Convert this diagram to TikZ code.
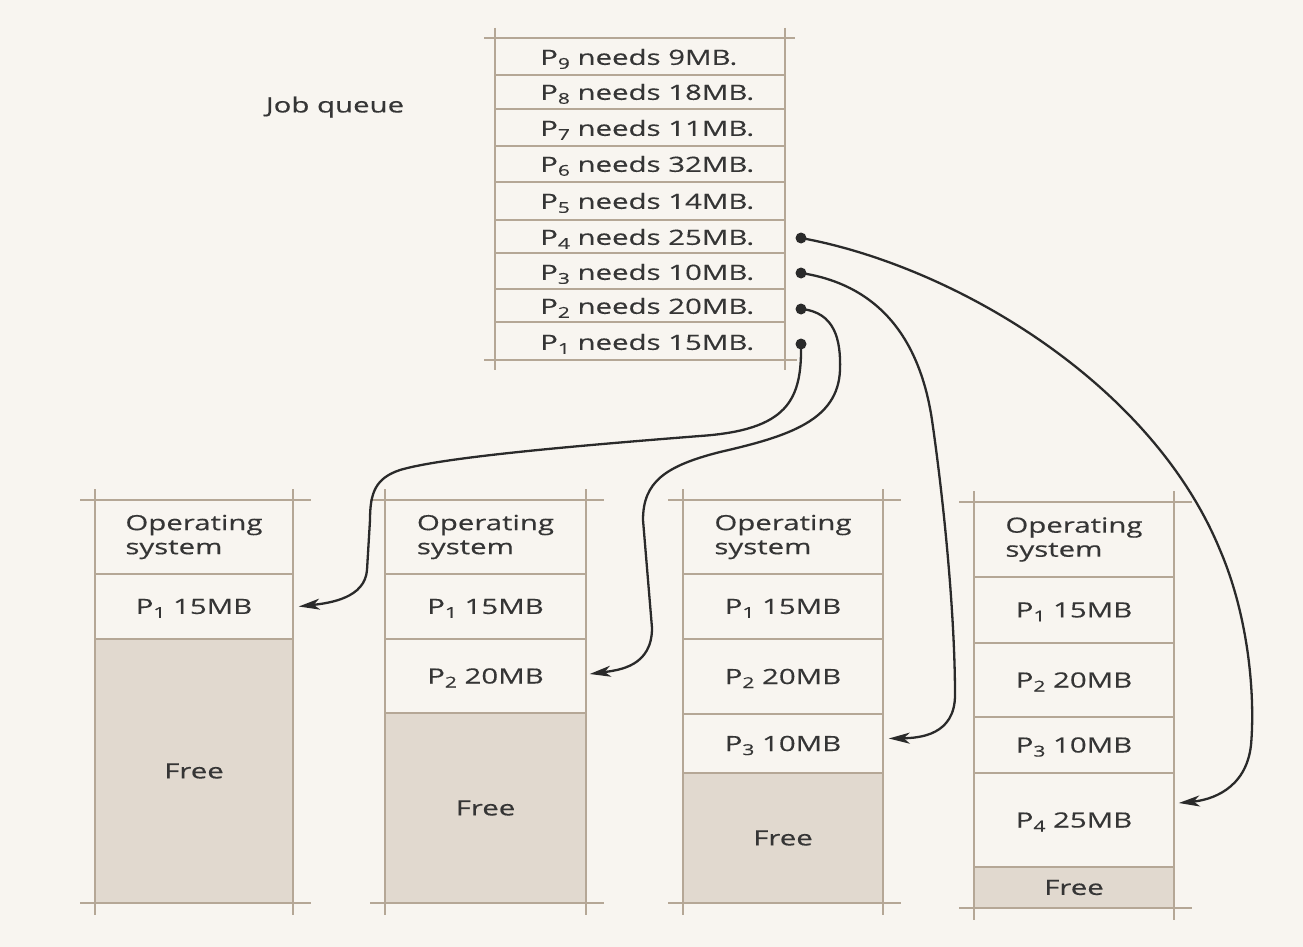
\documentclass[tikz,border=0pt]{standalone}
\usepackage{fontspec}
\setmainfont{Open Sans}[FakeStretch=1.4,FakeBold=0.35]
\usetikzlibrary{arrows.meta}
\definecolor{paper}{HTML}{F8F5F0}
\definecolor{rule}{HTML}{B5A796}
\definecolor{freefill}{HTML}{E1D9CF}
\definecolor{ink}{HTML}{353535}
\definecolor{wire}{HTML}{2A2A2A}
% subscript index of a process name
\newcommand\pid[1]{P\raisebox{-4pt}[0pt][0pt]{\fontsize{15}{15}\selectfont #1}}
% outer frame of a memory column: edges run past the corners
\newcommand\memframe[4]{%
  \draw[frame] (#1-15,#3) -- (#2+18,#3);
  \draw[frame] (#1-15,#4) -- (#2+18,#4);
  \draw[frame] (#1,#3-11) -- (#1,#4+12);
  \draw[frame] (#2,#3-11) -- (#2,#4+12);}
\begin{document}
\begin{tikzpicture}[x=1pt,y=-1pt,
  font=\fontsize{21}{24}\selectfont,
  frame/.style={draw=rule,line width=1.8pt},
  sep/.style={draw=rule,line width=1.5pt},
  qtext/.style={anchor=west,text=ink,inner sep=0pt},
  blk/.style={draw=rule,line width=1.5pt,inner sep=0pt,text=ink,align=left},
  freeblk/.style={blk,fill=freefill},
  dot/.style={circle,fill=wire,inner sep=0pt,minimum size=11pt},
  wirearrow/.style={draw=wire,line width=2.3pt,-{Stealth[length=21pt,width=11pt,inset=6pt]}}]

\fill[paper] (0,0) rectangle (1303,947);
\useasboundingbox (0,0) rectangle (1303,947);

% ---- job queue ----
\node[text=ink] (jq) at (335,107) {Job queue};

\foreach \y in {75,109,146,182,220,253,289,322} \draw[sep] (495,\y) -- (785,\y);
\draw[frame] (484,38) -- (795,38);
\draw[frame] (484,360) -- (797,360);
\draw[frame] (495,28) -- (495,370);
\draw[frame] (785,28) -- (785,370);

\node[qtext] (q9) at (540,57)  {\pid{9} needs 9MB.};
\node[qtext] (q8) at (540,92)  {\pid{8} needs 18MB.};
\node[qtext] (q7) at (540,128) {\pid{7} needs 11MB.};
\node[qtext] (q6) at (540,164) {\pid{6} needs 32MB.};
\node[qtext] (q5) at (540,201) {\pid{5} needs 14MB.};
\node[qtext] (q4) at (540,237) {\pid{4} needs 25MB.};
\node[qtext] (q3) at (540,272) {\pid{3} needs 10MB.};
\node[qtext] (q2) at (540,306) {\pid{2} needs 20MB.};
\node[qtext] (q1) at (540,342) {\pid{1} needs 15MB.};

\node[dot] (d4) at (801,238) {};
\node[dot] (d3) at (801,273) {};
\node[dot] (d2) at (801,309) {};
\node[dot] (d1) at (801,344) {};

% ---- memory column 1 ----
\node[blk,minimum width=198,minimum height=74] (c1os) at (194,537) {Operating\\system};
\node[blk,minimum width=198,minimum height=65] (c1p1) at (194,606.5) {\pid{1} 15MB};
\node[freeblk,minimum width=198,minimum height=264] (c1free) at (194,771) {Free};
\memframe{95}{293}{500}{903}

% ---- memory column 2 ----
\node[blk,minimum width=201,minimum height=74] (c2os) at (485.5,537) {Operating\\system};
\node[blk,minimum width=201,minimum height=65] (c2p1) at (485.5,606.5) {\pid{1} 15MB};
\node[blk,minimum width=201,minimum height=74] (c2p2) at (485.5,676) {\pid{2} 20MB};
\node[freeblk,minimum width=201,minimum height=190] (c2free) at (485.5,808) {Free};
\memframe{385}{586}{500}{903}

% ---- memory column 3 ----
\node[blk,minimum width=200,minimum height=74] (c3os) at (783,537) {Operating\\system};
\node[blk,minimum width=200,minimum height=65] (c3p1) at (783,606.5) {\pid{1} 15MB};
\node[blk,minimum width=200,minimum height=75] (c3p2) at (783,676.5) {\pid{2} 20MB};
\node[blk,minimum width=200,minimum height=59] (c3p3) at (783,743.5) {\pid{3} 10MB};
\node[freeblk,minimum width=200,minimum height=130] (c3free) at (783,838) {Free};
\memframe{683}{883}{500}{903}

% ---- memory column 4 ----
\node[blk,minimum width=200,minimum height=75] (c4os) at (1074,539.5) {Operating\\system};
\node[blk,minimum width=200,minimum height=66] (c4p1) at (1074,610) {\pid{1} 15MB};
\node[blk,minimum width=200,minimum height=74] (c4p2) at (1074,680) {\pid{2} 20MB};
\node[blk,minimum width=200,minimum height=56] (c4p3) at (1074,745) {\pid{3} 10MB};
\node[blk,minimum width=200,minimum height=94] (c4p4) at (1074,820) {\pid{4} 25MB};
\node[freeblk,minimum width=200,minimum height=41] (c4free) at (1074,887.5) {Free};
\memframe{974}{1174}{502}{908}

% ---- loading jobs into memory ----
\draw[wirearrow] (d1.center)
  .. controls (802,400) and (788,430) .. (700,436)
  .. controls (560,447) and (440,458) .. (400,470)
  .. controls (376,478) and (370,492) .. (370,520)
  -- (367,570)
  .. controls (365,598) and (330,603) .. ([shift={(5,0)}]c1p1.east);

\draw[wirearrow] (d2.center)
  .. controls (835,312) and (841,340) .. (840,370)
  .. controls (838,420) and (790,436) .. (720,452)
  .. controls (665,466) and (643,482) .. (643,520)
  -- (652,628)
  .. controls (652,666) and (620,670) .. ([shift={(3,-2)}]c2p2.east);

\draw[wirearrow] (d3.center)
  .. controls (880,285) and (920,340) .. (932,420)
  .. controls (945,510) and (955,620) .. (955,695)
  .. controls (955,735) and (920,738) .. ([shift={(5,-5)}]c3p3.east);

\draw[wirearrow] (d4.center)
  .. controls (950,265) and (1150,380) .. (1220,550)
  .. controls (1250,620) and (1255,700) .. (1251,745)
  .. controls (1246,790) and (1210,800) .. ([shift={(4,-17)}]c4p4.east);

\end{tikzpicture}
\end{document}
